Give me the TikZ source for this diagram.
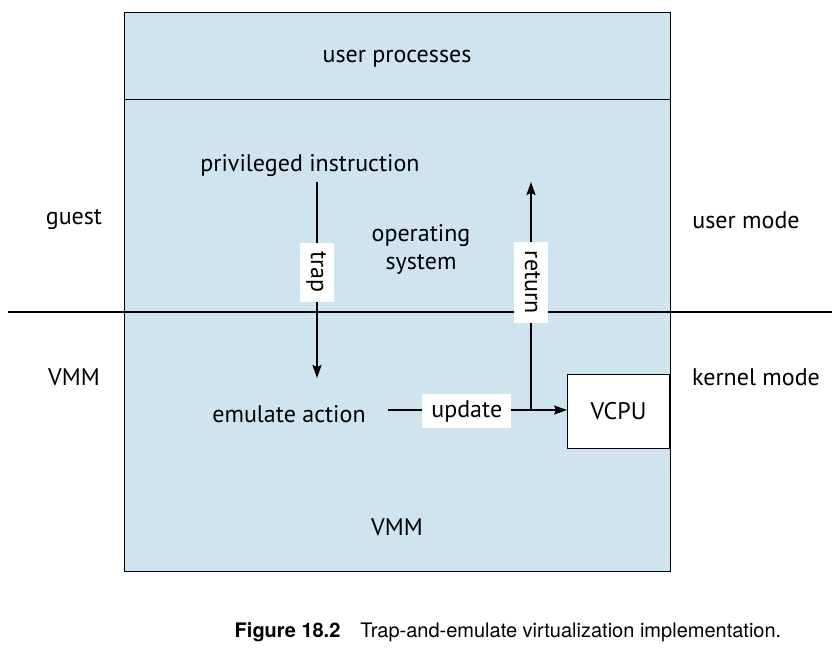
\documentclass[tikz,border=0pt]{standalone}
\usepackage{fontspec}
\setmainfont{PT Sans}
\newfontfamily\capfont{TeX Gyre Heros}
\usetikzlibrary{arrows.meta,positioning}
\definecolor{vmblue}{RGB}{207,228,238}

\begin{document}
\begin{tikzpicture}[x=1pt,y=-1pt,
    txt/.style={font=\fontsize{24}{28}\selectfont, align=center},
    tag/.style={txt, fill=white, inner xsep=9pt, inner ysep=6pt, text height=17pt, text depth=5pt},
    box/.style={txt, draw=black, fill=white, line width=0.9pt, minimum width=102pt, minimum height=74pt},
    arr/.style={-{Stealth[length=13pt,width=9pt,inset=2pt]}, line width=1.8pt}]
    \useasboundingbox (0,0) rectangle (836,648);
    % layers
    \draw[fill=vmblue, line width=0.9pt] (124,12) rectangle (670,571);
    \draw[line width=0.9pt] (124,99) -- (670,99);
    \draw[line width=1.8pt] (8,312) -- (832,312);
    % texts
    \node[txt] (user) at (397,59) {user processes};
    \node[txt] (priv) at (310,166) {privileged instruction};
    \node[txt] (os) at (421,249) {operating\\system};
    \node[txt] (guest) at (74,220) {guest};
    \node[txt] (umode) at (746,220) {user mode};
    \node[txt] (vmml) at (74,377) {VMM};
    \node[txt] (kmode) at (756,377) {kernel mode};
    \node[txt] (emul) at (289,414) {emulate action};
    \node[txt] (vmm) at (397,527) {VMM};
    \node[box] (vcpu) at (618.5,411) {VCPU};
    % connectors
    \coordinate (trapa) at (317,182);
    \coordinate (trapb) at (317,378);
    \coordinate (upda) at (388,410);
    \coordinate (reta) at (531,410);
    \coordinate (retb) at (531,182);
    \draw[arr] (trapa) -- node[tag, rotate=-90, pos=0.46] {trap} (trapb);
    \draw[arr] (upda) -- node[tag, pos=0.44, yshift=-1pt] {update} (vcpu.west |- upda);
    \draw[arr] (reta) -- node[tag, rotate=-90, pos=0.56] {return} (retb);
    % caption
    \node[font=\capfont\fontsize{20}{24}\selectfont] (cap) at (508,632)
        {\textbf{Figure 18.2}\quad Trap-and-emulate virtualization implementation.};
\end{tikzpicture}
\end{document}
